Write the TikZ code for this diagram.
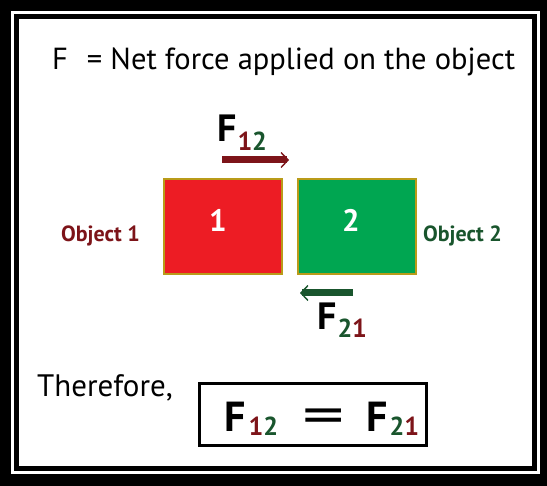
\documentclass[tikz,border=0pt]{standalone}
\usepackage{fontspec}
\usepackage{graphicx}
\setmainfont{PT Sans}
\usetikzlibrary{arrows.meta,positioning}

\definecolor{boxred}{RGB}{237,28,36}
\definecolor{boxgreen}{RGB}{0,166,81}
\definecolor{rimgold}{RGB}{185,155,25}
\definecolor{darkred}{RGB}{125,20,25}
\definecolor{darkgreen}{RGB}{25,85,45}

\newcommand{\onetwo}{\textcolor{darkred}{1}\textcolor{darkgreen}{2}}
\newcommand{\twoone}{\textcolor{darkgreen}{2}\textcolor{darkred}{1}}
\newcommand{\fsize}[1]{\fontsize{#1}{#1}\selectfont}

\tikzset{
  objbox/.style={draw=rimgold, line width=2pt, minimum width=118pt,
    minimum height=95pt, inner sep=0pt},
  objnum/.style={text=white, font=\fsize{31}\bfseries},
  objname/.style={anchor=base west, inner sep=0pt, font=\fsize{22}\bfseries},
  basetext/.style={anchor=base west, inner sep=0pt},
  forcearrow/.style={line width=7pt,
    -{Straight Barb[line width=1.4pt, length=7pt, width=15pt]}},
}

\begin{document}
\begin{tikzpicture}[x=1pt, y=-1pt]

  % -- Frame --
  \fill[black] (0,0) rectangle (547,486);
  \fill[white] (11,11) rectangle (540,474);
  \draw[line width=5pt] (16.5,16.5) rectangle (534.5,468.5);

  % -- Definition line --
  \node[basetext] (defn) at (52,70)
    {\fsize{30.5}F\hspace{19pt}= Net force applied on the object};

  % -- The two objects --
  \node[objbox, fill=boxred] (obj1) at (223,226.5) {};
  \node[objbox, fill=boxgreen] (obj2) at (357,226.5) {};
  \node[objnum] (num1) at ([shift={(-5,-6)}]obj1.center) {1};
  \node[objnum] (num2) at ([shift={(-6,-6)}]obj2.center) {2};

  \node[objname, darkred] (name1) at (61,242) {Object 1};
  \node[objname, darkgreen] (name2) at (423,242) {Object 2};

  % -- Force of 1 on 2 --
  \coordinate (f12tail) at (222,160);
  \coordinate (f12head) at (289,160);
  \draw[forcearrow, darkred] (f12tail) -- (f12head);
  \node[basetext] (f12lbl) at (217,142)
    {\fsize{38}\bfseries F\hspace{1pt}\raisebox{-9pt}{\fsize{26}\onetwo}};

  % -- Force of 2 on 1 --
  \coordinate (f21tail) at (353,293);
  \coordinate (f21head) at (300,293);
  \draw[forcearrow, darkgreen] (f21tail) -- (f21head);
  \node[basetext] (f21lbl) at (317,330)
    {\fsize{38}\bfseries F\hspace{1pt}\raisebox{-8pt}{\fsize{26}\twoone}};

  % -- Conclusion --
  \node[basetext] (thus) at (37,397) {\fsize{31}Therefore,};
  \node[draw, line width=3pt, minimum width=227pt, minimum height=62pt]
    (eqbox) at (313,414.5) {};
  \node[basetext] (eqleft) at (224,432)
    {\fsize{42}\bfseries F\hspace{3pt}\raisebox{-4pt}{\fsize{26}\onetwo}};
  \node[font=\fsize{56}, inner sep=0pt] (eqsign) at (323.5,422)
    {\scalebox{1.5}[1]{=}};
  \node[basetext] (eqright) at (366,432)
    {\fsize{42}\bfseries F\hspace{2pt}\raisebox{-4pt}{\fsize{26}\twoone}};

\end{tikzpicture}
\end{document}
